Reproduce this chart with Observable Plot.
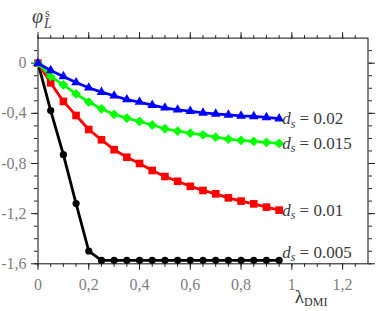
<!DOCTYPE html>
<html>
<head>
<meta charset="utf-8">
<script src="https://cdn.jsdelivr.net/npm/d3@7"></script>
<script src="https://cdn.jsdelivr.net/npm/@observablehq/plot@0.6"></script>
<style>
  html, body { margin: 0; padding: 0; background: #fff; }
  svg text { font-family: "Liberation Serif", "DejaVu Serif", serif !important; }
</style>
</head>
<body>
<div id="chart"></div>
<script>
// λ_DMI values
const lambda = [0, 0.05, 0.1, 0.15, 0.2, 0.25, 0.3, 0.35, 0.4, 0.45, 0.5, 0.55, 0.6, 0.65, 0.7, 0.75, 0.8, 0.85, 0.9, 0.95];
// φ_L^s series
const phi005 = [0, -0.378, -0.73, -1.12, -1.498, -1.573, -1.572, -1.572, -1.572, -1.572, -1.572, -1.572, -1.572, -1.572, -1.572, -1.572, -1.572, -1.572, -1.572, -1.572];
const phi01  = [0, -0.157, -0.305, -0.417, -0.529, -0.611, -0.69, -0.75, -0.80, -0.856, -0.904, -0.942, -0.982, -1.015, -1.042, -1.074, -1.10, -1.122, -1.148, -1.172];
const phi015 = [0, -0.106, -0.173, -0.245, -0.31, -0.364, -0.409, -0.438, -0.465, -0.493, -0.523, -0.542, -0.558, -0.571, -0.59, -0.606, -0.616, -0.624, -0.632, -0.64];
const phi02  = [0, -0.058, -0.106, -0.154, -0.196, -0.231, -0.26, -0.29, -0.31, -0.335, -0.356, -0.372, -0.383, -0.396, -0.404, -0.412, -0.42, -0.425, -0.433, -0.442];
const dsLabels = ["0.005", "0.01", "0.015", "0.02"];
const colors = ["#000000", "#ff0000", "#00ff00", "#0000ff"];
const symbols = ["circle", "square", "diamond2", "triangle"];
const radii = [3.6, 4.3, 4.4, 3.6];

// tick positions
const xMajor = [0, 0.2, 0.4, 0.6, 0.8, 1, 1.2];
const xMinor = d3.range(0, 26).map(i => i / 20);
const yMajor = [-1.6, -1.2, -0.8, -0.4, 0];
const yMinor = d3.range(-16, 2).map(i => i / 10);

const seriesValues = [phi005, phi01, phi015, phi02];
const series = seriesValues.map((vals, k) => vals.map((v, i) => ({x: lambda[i], y: v, k})));
const ends = seriesValues.map((vals, k) => ({x: lambda[lambda.length - 1], y: vals[vals.length - 1], label: dsLabels[k], k}));

const fmt = d => d === 0 ? "0" : String(d).replace(".", ",");
const frameColor = "#222";
const tickText = "#808080";
const serif = "Liberation Serif";

const marks = [];
// axes: minor ticks on all four sides
marks.push(Plot.axisX(xMinor, {anchor: "bottom", tickSize: 3.5, text: null, label: null, stroke: frameColor}));
marks.push(Plot.axisX(xMinor, {anchor: "top", tickSize: 3.5, text: null, label: null, stroke: frameColor}));
marks.push(Plot.axisY(yMinor, {anchor: "left", tickSize: 3.5, text: null, label: null, stroke: frameColor}));
marks.push(Plot.axisY(yMinor, {anchor: "right", tickSize: 3.5, text: null, label: null, stroke: frameColor}));
// major ticks
marks.push(Plot.axisX(xMajor, {anchor: "bottom", tickSize: 6.5, tickPadding: 8, tickFormat: fmt, label: null, stroke: frameColor, fill: tickText, fontSize: 16, fontFamily: serif}));
marks.push(Plot.axisX(xMajor, {anchor: "top", tickSize: 6.5, text: null, label: null, stroke: frameColor}));
marks.push(Plot.axisY(yMajor, {anchor: "left", tickSize: 6.5, tickPadding: 5, tickFormat: fmt, label: null, stroke: frameColor, fill: tickText, fontSize: 16, fontFamily: serif}));
marks.push(Plot.axisY(yMajor, {anchor: "right", tickSize: 6.5, text: null, label: null, stroke: frameColor}));
marks.push(Plot.frame({stroke: frameColor, strokeWidth: 1.1}));

series.forEach((data, k) => {
  marks.push(Plot.line(data, {x: "x", y: "y", stroke: colors[k], strokeWidth: 2.8}));
  marks.push(Plot.dot(data, {x: "x", y: "y", fill: colors[k], stroke: "none", symbol: () => symbols[k], r: radii[k]}));
});

// series labels
marks.push(Plot.text(ends.filter(d => d.k > 0), {x: "x", y: "y", text: d => "ds = " + d.label, textAnchor: "start", lineAnchor: "middle", dx: 3, dy: 0, fill: "#3a3a3a", fontSize: 17, fontFamily: serif, ariaDescription: "dslab"}));
marks.push(Plot.text(ends.filter(d => d.k === 0), {x: "x", y: "y", text: d => "ds = " + d.label, textAnchor: "start", lineAnchor: "middle", dx: 3, dy: -8, fill: "#3a3a3a", fontSize: 17, fontFamily: serif, ariaDescription: "dslab"}));

// axis titles
marks.push(Plot.text(["φ"], {frameAnchor: "top-left", textAnchor: "start", lineAnchor: "bottom", dx: -6, dy: -15, fill: "#444", fontSize: 20, fontFamily: serif, ariaDescription: "ytitle"}));
marks.push(Plot.text([1], {x: d => d, frameAnchor: "bottom", textAnchor: "start", lineAnchor: "bottom", dx: 3, dy: 39, fill: "#333", fontSize: 19, fontFamily: serif, ariaDescription: "xtitle", text: () => "λ"}));

const chart = Plot.plot({
  width: 382,
  height: 311,
  marginLeft: 37.5,
  marginRight: 14.5,
  marginTop: 37.6,
  marginBottom: 47.7,
  style: {fontFamily: serif, fontSize: "16px", background: "#fff"},
  x: {domain: [0, 1.3]},
  y: {domain: [-1.6, 0.2]},
  marks
});

const svg = d3.select(chart);
svg.selectAll('g[aria-description="dslab"] text').each(function() {
  const t = this.textContent;
  const val = t.split("= ")[1];
  const el = d3.select(this);
  el.text(null);
  el.append("tspan").attr("font-style", "italic").text("d");
  el.append("tspan").attr("font-style", "italic").attr("font-size", 12).attr("dy", 3.5).text("s");
  el.append("tspan").attr("dy", -3.5).text(" = " + val);
});
svg.selectAll('g[aria-description="ytitle"] text').each(function() {
  const el = d3.select(this);
  el.text(null);
  el.append("tspan").attr("font-style", "italic").text("φ");
  el.append("tspan").attr("font-style", "italic").attr("font-size", 14).attr("dy", 5).attr("dx", 1).text("L");
  el.append("tspan").attr("font-size", 12).attr("dy", -11).attr("dx", -7).text("s");
});
svg.selectAll('g[aria-description="xtitle"] text').each(function() {
  const el = d3.select(this);
  el.text(null);
  el.append("tspan").text("λ");
  el.append("tspan").attr("font-size", 12).attr("dy", 3).text("DMI");
});

document.getElementById("chart").appendChild(chart);
</script>
</body>
</html>
